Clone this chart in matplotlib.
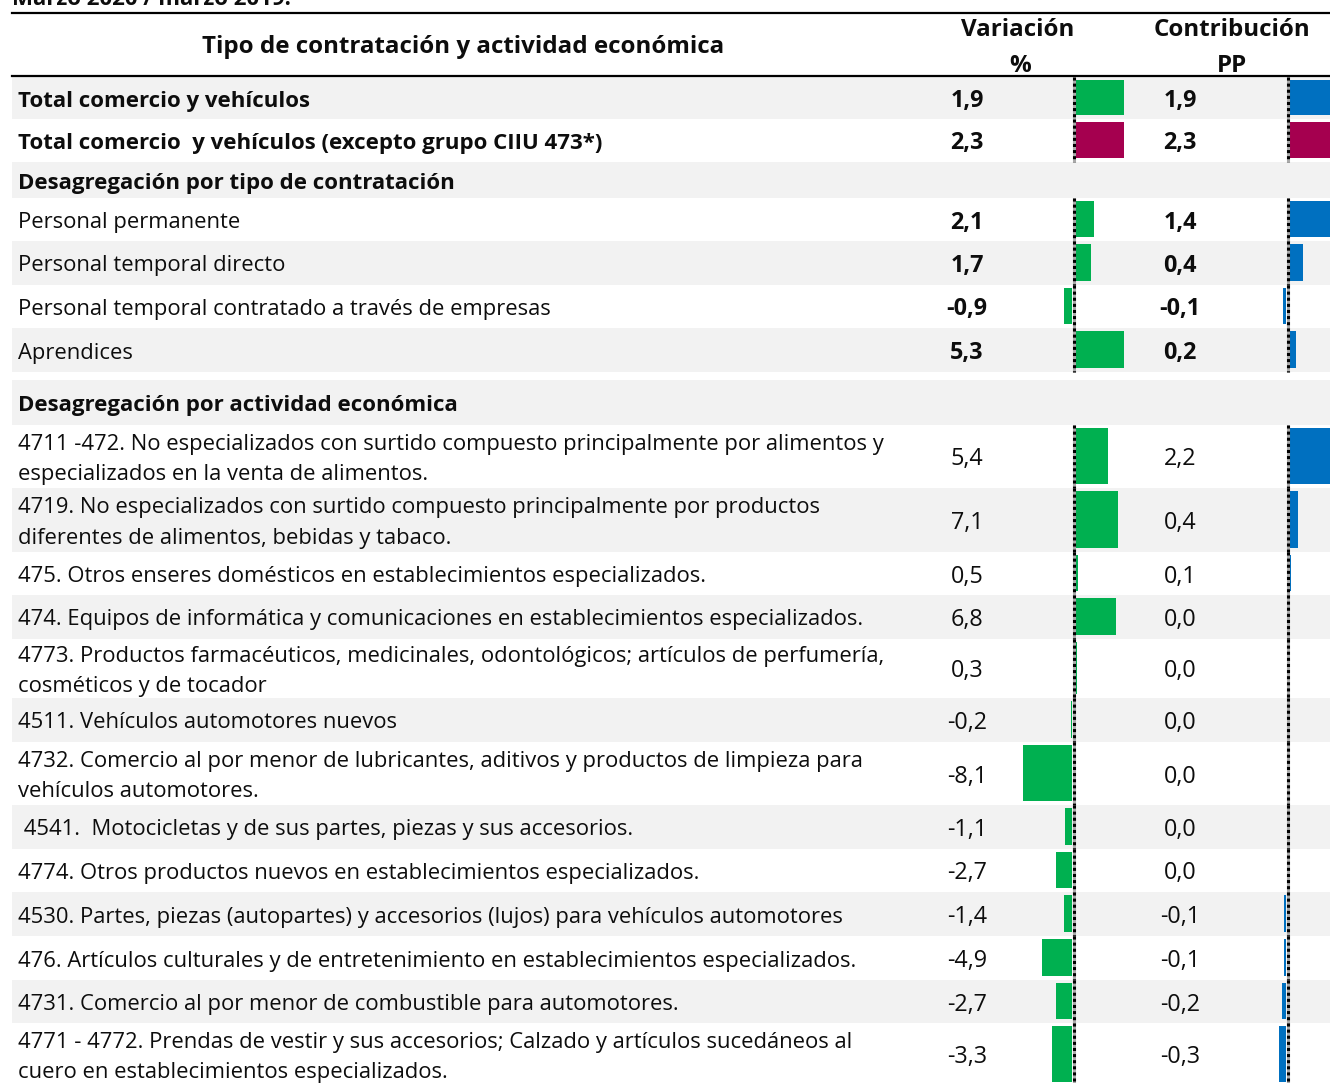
import matplotlib
matplotlib.use("Agg")
import matplotlib.pyplot as plt

# ---- data ----
labels = [
    "Total comercio y vehículos",
    "Total comercio  y vehículos (excepto grupo CIIU 473*)",
    "Desagregación por tipo de contratación",
    "Personal permanente",
    "Personal temporal directo",
    "Personal temporal contratado a través de empresas",
    "Aprendices",
    "Desagregación por actividad económica",
    "4711 -472. No especializados con surtido compuesto principalmente por alimentos y\nespecializados en la venta de alimentos.",
    "4719. No especializados con surtido compuesto principalmente por productos\ndiferentes de alimentos, bebidas y tabaco.",
    "475. Otros enseres domésticos en establecimientos especializados.",
    "474. Equipos de informática y comunicaciones en establecimientos especializados.",
    "4773. Productos farmacéuticos, medicinales, odontológicos; artículos de perfumería,\ncosméticos y de tocador",
    "4511. Vehículos automotores nuevos",
    "4732. Comercio al por menor de lubricantes, aditivos y productos de limpieza para\nvehículos automotores.",
    " 4541.  Motocicletas y de sus partes, piezas y sus accesorios.",
    "4774. Otros productos nuevos en establecimientos especializados.",
    "4530. Partes, piezas (autopartes) y accesorios (lujos) para vehículos automotores",
    "476. Artículos culturales y de entretenimiento en establecimientos especializados.",
    "4731. Comercio al por menor de combustible para automotores.",
    "4771 - 4772. Prendas de vestir y sus accesorios; Calzado y artículos sucedáneos al\ncuero en establecimientos especializados.",
]
variacion = [1.9, 2.3, None, 2.1, 1.7, -0.9, 5.3, None,
             5.4, 7.1, 0.5, 6.8, 0.3, -0.2, -8.1, -1.1, -2.7, -1.4, -4.9, -2.7, -3.3]
contribucion = [1.9, 2.3, None, 1.4, 0.4, -0.1, 0.2, None,
                2.2, 0.4, 0.1, 0.0, 0.0, 0.0, 0.0, 0.0, 0.0, -0.1, -0.1, -0.2, -0.3]
# data bar rule each row belongs to (None = section header)
grupo = ["t1", "t2", None, "tipo", "tipo", "tipo", "tipo", None] + ["act"] * 13

# ---- layout ----
row_h = [42, 43, 36, 43, 44, 43, 44, 45, 63, 64, 43, 44, 59, 44, 63, 44, 43, 44, 44, 43, 63]
gap_before = {7: 8}
y0 = 77
x_left, x_right = 12, 1330
x_var, x_con = 967, 1180          # number column centres
ax_var, ax_con = 1073.5, 1287.5   # data bar axes
half = 49
gris = "#F2F2F2"
verde, azul, magenta = "#00B050", "#0070C0", "#A5004F"
negro = "#0d0d0d"

FONT = "Open Sans"
fs = 15.8       # regular labels
fs_b = 16.0     # bold labels
fs_n = 16.8     # numbers
fs_h = 17.4     # header
dy = 3

fig = plt.figure(figsize=(13.3, 10.83), dpi=100)
ax = fig.add_axes([0, 0, 1, 1])
ax.set_xlim(0, 1330)
ax.set_ylim(1083, 0)
ax.axis("off")

# scale for each data bar rule
escala_var, escala_con = {}, {}
for g in set(x for x in grupo if x):
    vv = [abs(v) for v, gg in zip(variacion, grupo) if gg == g]
    cc = [abs(v) for v, gg in zip(contribucion, grupo) if gg == g]
    escala_var[g] = half / max(vv)
    escala_con[g] = half / max(cc)

def fmt(v):
    return ("%.1f" % v).replace(".", ",")

y = y0
for i, lab in enumerate(labels):
    y += gap_before.get(i, 0)
    h = row_h[i]
    yc = y + h / 2
    if (i + (i >= 7)) % 2 == 0:
        ax.axhspan(y, y + h, xmin=x_left / 1330, xmax=1, color=gris, lw=0, zorder=0)
    g = grupo[i]
    bold_lab = i in (0, 1, 2, 7)
    ax.text(18, yc + dy, lab, fontsize=fs_b if bold_lab else fs, family=FONT,
            va="center", ha="left", fontweight="bold" if bold_lab else "normal",
            linespacing=1.6, color=negro)
    if g is None:
        y += h
        continue
    w = "bold" if i < 7 else "normal"
    ax.text(x_var, yc + dy, fmt(variacion[i]), fontsize=fs_n, family=FONT,
            va="center", ha="center", fontweight=w, color=negro)
    ax.text(x_con, yc + dy, fmt(contribucion[i]), fontsize=fs_n, family=FONT,
            va="center", ha="center", fontweight=w, color=negro)
    col_v = magenta if g == "t2" else verde
    col_c = magenta if g == "t2" else azul
    bh = h - 7
    for val, axx, sc, col in ((variacion[i], ax_var, escala_var[g], col_v),
                              (contribucion[i], ax_con, escala_con[g], col_c)):
        if val == 0:
            continue
        start = axx + 1.5 if val > 0 else axx - 1.5
        ax.barh(yc - 0.5, val * sc, left=start, height=bh, color=col, lw=0, zorder=2)
    for axx in (ax_var, ax_con):
        ax.plot([axx, axx], [y, y + h], color="#aaaaaa", lw=2.2, zorder=3,
                solid_capstyle="butt")
        ax.plot([axx, axx], [y, y + h], color="black", lw=2.2, zorder=4,
                linestyle=(0, (1.0, 1.0)), dash_capstyle="butt")
    y += h

# header
ax.plot([x_left, x_right], [13, 13], color="black", lw=1.6)
ax.plot([x_left, x_right], [76, 76], color="black", lw=1.6)
hdr = dict(fontsize=fs_h, family=FONT, fontweight="bold", ha="center",
           va="center", color=negro)
ax.text(463, 47, "Tipo de contratación y actividad económica", **hdr)
ax.text(1018, 30, "Variación", **hdr)
ax.text(1020, 66, "%", **hdr)
ax.text(1232, 30, "Contribución", **hdr)
ax.text(1232, 66, "PP", **hdr)
ax.text(12, 5, "Marzo 2020 / marzo 2019.", fontsize=fs_b, family=FONT,
        fontweight="bold", ha="left", va="baseline", color=negro)

fig.savefig("out.png", dpi=100)
